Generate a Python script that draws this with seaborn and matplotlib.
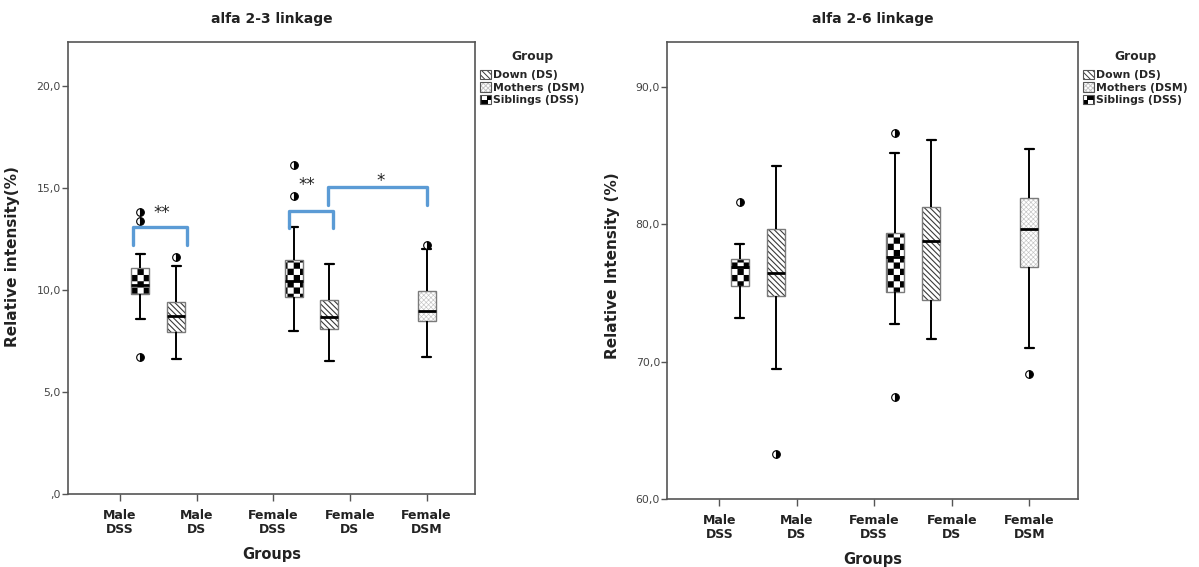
import numpy as np
import pandas as pd
import matplotlib
matplotlib.use("Agg")
import matplotlib.pyplot as plt
import matplotlib.hatch as mhatch
import matplotlib.patches as mpatches
import matplotlib.colors as mcolors
from matplotlib.path import Path
import seaborn as sns

# ---------------- data ----------------
groups = ["Male\nDSS", "Male\nDS", "Female\nDSS", "Female\nDS", "Female\nDSM"]
group_type = ["Siblings (DSS)", "Down (DS)", "Siblings (DSS)", "Down (DS)", "Mothers (DSM)"]
hue_order = ["Down (DS)", "Mothers (DSM)", "Siblings (DSS)"]

# alfa 2-3 linkage (relative intensity %), one sample list per group
a23_male_dss = [6.73, 8.56, 9.30, 9.80, 9.95, 10.10, 10.24, 10.50, 10.80, 11.06, 11.75, 13.38, 13.84]
a23_male_ds = [6.60, 7.50, 7.96, 8.40, 8.74, 9.10, 9.40, 11.18, 11.63]
a23_female_dss = [8.01, 8.90, 9.30, 9.67, 9.90, 10.20, 10.45, 10.80, 11.10, 11.47, 13.07, 14.58, 16.13]
a23_female_ds = [6.52, 7.60, 8.10, 8.40, 8.66, 9.00, 9.51, 10.30, 11.27]
a23_female_dsm = [6.73, 8.00, 8.48, 8.70, 8.99, 9.50, 9.95, 12.00, 12.22]

# alfa 2-6 linkage
a26_male_dss = [73.14, 74.60, 75.51, 76.20, 76.90, 77.20, 77.45, 78.52, 81.62]
a26_male_ds = [63.27, 69.43, 74.76, 75.60, 76.41, 78.00, 79.61, 82.00, 84.24]
a26_female_dss = [67.44, 72.73, 75.08, 76.50, 77.62, 78.50, 79.32, 85.14, 86.60]
a26_female_ds = [71.66, 73.00, 74.47, 76.50, 78.79, 80.00, 81.26, 83.50, 86.11]
a26_female_dsm = [69.10, 71.00, 76.85, 78.30, 79.61, 80.80, 81.92, 83.50, 85.43]

left_ticks = [0, 5, 10, 15, 20]
left_ticklabels = [",0", "5,0", "10,0", "15,0", "20,0"]
right_ticks = [60, 70, 80, 90]
right_ticklabels = ["60,0", "70,0", "80,0", "90,0"]

# significance brackets (left panel)
br_x0 = [0.17, 2.21, 2.71]
br_x1 = [0.88, 2.78, 4.00]
br_top = [13.07, 13.89, 15.03]
br_leg = [12.20, 13.04, 14.17]
star_text = ["**", "**", "*"]
star_x = [0.55, 2.44, 3.40]
star_y = [13.75, 15.15, 15.35]


def make_df(lists):
    rows = []
    for g, t, vals in zip(groups, group_type, lists):
        for v in vals:
            rows.append({"group": g, "type": t, "value": v})
    return pd.DataFrame(rows)


df23 = make_df([a23_male_dss, a23_male_ds, a23_female_dss, a23_female_ds, a23_female_dsm])
df26 = make_df([a26_male_dss, a26_male_ds, a26_female_dss, a26_female_ds, a26_female_dsm])


# ---------------- custom checkerboard hatch ----------------
class CheckerHatch(mhatch.HatchPatternBase):
    def __init__(self, hatch, density):
        self.n = hatch.count('O') * 16
        self.num_vertices = (self.n * self.n // 2) * 5

    def set_vertices_and_codes(self, vertices, codes):
        n = self.n
        s = 1.0 / n
        k = 0
        for i in range(n):
            for j in range(n):
                if (i + j) % 2 == 0:
                    x0, y0 = i * s, j * s
                    vertices[k:k + 5] = [[x0, y0], [x0 + s, y0], [x0 + s, y0 + s],
                                         [x0, y0 + s], [x0, y0]]
                    codes[k:k + 5] = [Path.MOVETO, Path.LINETO, Path.LINETO,
                                      Path.LINETO, Path.CLOSEPOLY]
                    k += 5


mhatch._hatch_types = [CheckerHatch if t is mhatch.LargeCircles else t
                       for t in mhatch._hatch_types]

hatch_map = {"Down (DS)": "\\\\\\\\\\\\", "Mothers (DSM)": "xxxxxxx", "Siblings (DSS)": "O"}
hatch_col = {"Down (DS)": "#3a3a3a", "Mothers (DSM)": "#c4c4c4", "Siblings (DSS)": "#000000"}
hatch_lw = {"Down (DS)": 0.8, "Mothers (DSM)": 0.45, "Siblings (DSS)": 0.05}

# ---------------- style ----------------
sns.set_style("ticks")
plt.rcParams['font.family'] = ['DejaVu Sans']
plt.rcParams['hatch.linewidth'] = 0.7

fig = plt.figure(figsize=(11.99, 5.67), dpi=100)
ax1 = fig.add_axes([68 / 1199, 1 - 494 / 567, 407 / 1199, 452 / 567])
ax2 = fig.add_axes([667 / 1199, 1 - 499 / 567, 411 / 1199, 457 / 567])

box_edge = "#7a7a7a"


def style_patch(p, t):
    p.set_facecolor("white")
    p.set_edgecolor(box_edge)
    p.set_linewidth(1.0)
    p.set_hatch(hatch_map[t])
    p._hatch_color = mcolors.to_rgba(hatch_col[t])
    if hasattr(p, "set_hatch_linewidth"):
        p.set_hatch_linewidth(hatch_lw[t])


def draw(ax, df, ylim, ticks, ticklabels, title, ylabel, ylabel_pos):
    sns.boxplot(data=df, x="group", y="value", hue="type", order=groups,
                hue_order=hue_order, dodge=True, width=0.8, gap=0.12,
                palette={h: "white" for h in hue_order}, legend=False, ax=ax,
                boxprops=dict(edgecolor=box_edge, linewidth=1.0),
                whiskerprops=dict(color="black", linewidth=1.4),
                capprops=dict(color="black", linewidth=1.6),
                medianprops=dict(color="black", linewidth=2.0),
                flierprops=dict(marker="o", markersize=5.5, fillstyle="right",
                                markerfacecolor="black", markerfacecoloralt="white",
                                markeredgecolor="black", markeredgewidth=0.8))
    for p in ax.patches:
        if isinstance(p, mpatches.PathPatch):
            xc = p.get_path().vertices[:, 0].mean()
            idx = int(round(xc))
            style_patch(p, group_type[idx])
    ax.set_xlim(-0.675, 4.63)
    ax.set_ylim(*ylim)
    ax.set_yticks(ticks)
    ax.set_yticklabels(ticklabels)
    ax.tick_params(axis="y", labelsize=7.8, labelcolor="#444444", color="#555555",
                   length=4, width=1.0, direction="out", pad=1)
    ax.tick_params(axis="x", labelsize=9, color="#555555", length=5, width=1.0,
                   direction="out", pad=6)
    for lab in ax.get_xticklabels():
        lab.set_fontweight("bold")
        lab.set_linespacing(1.05)
        lab.set_color("#222222")
    for s in ax.spines.values():
        s.set_visible(True)
        s.set_color("#555555")
        s.set_linewidth(1.2)
    ax.set_xlabel("Groups", fontsize=10.5, fontweight="bold", color="#222222", labelpad=8)
    ax.set_ylabel(ylabel, fontsize=11, fontweight="bold", color="#222222")
    ax.yaxis.set_label_coords(*ylabel_pos)
    ax.set_title(title, fontsize=10, fontweight="bold", color="#222222", pad=14)

    handles = []
    for h in hue_order:
        hp = mpatches.Patch(facecolor="white", edgecolor="#555555", linewidth=0.8,
                            hatch=hatch_map[h], label=h)
        hp._hatch_color = mcolors.to_rgba(hatch_col[h])
        if hasattr(hp, "set_hatch_linewidth"):
            hp.set_hatch_linewidth(hatch_lw[h])
        handles.append(hp)
    leg = ax.legend(handles=handles, title="Group", loc="upper left",
                    bbox_to_anchor=(1.0, 0.995), frameon=False,
                    prop={"weight": "bold", "size": 7.8},
                    title_fontproperties={"weight": "bold", "size": 8.8},
                    handlelength=0.95, handleheight=0.95, handletextpad=0.25,
                    labelspacing=0.2, borderaxespad=0.2, borderpad=0.3)
    leg._legend_box.align = "center"
    leg._legend_box.sep = 5


draw(ax1, df23, (0, 22.15), left_ticks, left_ticklabels, "alfa 2-3 linkage",
     "Relative intensity(%)", (-0.118, 0.525))
draw(ax2, df26, (60, 93.25), right_ticks, right_ticklabels, "alfa 2-6 linkage",
     "Relative Intensity (%)", (-0.114, 0.51))

# significance brackets
for x0, x1, top, leg_y in zip(br_x0, br_x1, br_top, br_leg):
    ax1.plot([x0, x0, x1, x1], [leg_y, top, top, leg_y], color="#5b9bd5",
             linewidth=2.4, solid_joinstyle="round", solid_capstyle="round", zorder=5)
for tx, sx, sy in zip(star_text, star_x, star_y):
    ax1.text(sx, sy, tx, ha="center", va="center", fontsize=12, color="#222222")

fig.savefig("out.png", dpi=100)
